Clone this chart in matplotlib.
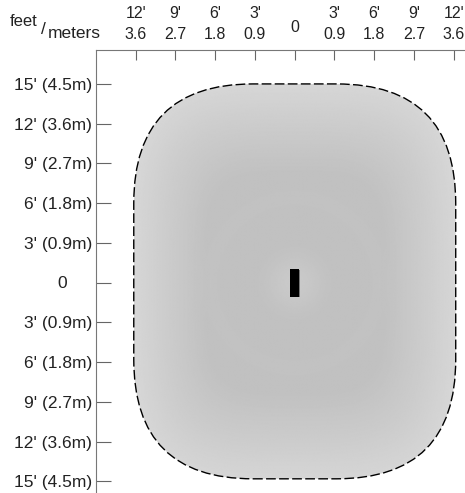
import matplotlib
matplotlib.use("Agg")
import matplotlib.pyplot as plt
import numpy as np
from matplotlib.patches import FancyBboxPatch, Rectangle
from matplotlib.transforms import blended_transform_factory

plt.rcParams['font.family'] = ['Liberation Sans', 'DejaVu Sans']

# DATA (feet, sensor at origin)
x_ticks_ft = [-12, -9, -6, -3, 0, 3, 6, 9, 12]
x_labels_ft = ["12'", "9'", "6'", "3'", "", "3'", "6'", "9'", "12'"]
x_labels_m = ["3.6", "2.7", "1.8", "0.9", "", "0.9", "1.8", "2.7", "3.6"]
y_ticks_ft = [15, 12, 9, 6, 3, 0, -3, -6, -9, -12, -15]
y_labels = ["15' (4.5m)", "12' (3.6m)", "9' (2.7m)", "6' (1.8m)", "3' (0.9m)", "",
            "3' (0.9m)", "6' (1.8m)", "9' (2.7m)", "12' (3.6m)", "15' (4.5m)"]

# coverage zone outline: left, right, bottom, top, corner radius (ft)
coverage_left = -12.15
coverage_right = 12.15
coverage_bottom = -14.8
coverage_top = 15.0
coverage_corner = 9.0

# sensor body (ft)
sensor_width = 0.68
sensor_height = 2.1

W, H = 465, 493
fig = plt.figure(figsize=(W / 100, H / 100), dpi=100)
ax = fig.add_axes([96 / W, 0, (W - 96) / W, (H - 50) / H])
ax.set_xlim(-15, 12.85)
ax.set_ylim(-15.87, 17.56)

box = f"round,pad=0,rounding_size={coverage_corner}"

# coverage shape
shape = FancyBboxPatch((coverage_left, coverage_bottom),
                       coverage_right - coverage_left, coverage_top - coverage_bottom,
                       boxstyle=box, facecolor='none', edgecolor='black', linewidth=1.0,
                       linestyle=(0, (7, 2.4)), zorder=3)
ax.add_patch(shape)

# grey shading inside the zone
gx = np.linspace(coverage_left, coverage_right, 400)
gy = np.linspace(coverage_bottom, coverage_top, 480)
X, Y = np.meshgrid(gx, gy)
r = np.hypot(X, Y)
d = ((np.abs(X) / coverage_right) ** 4 + (np.abs(Y) / coverage_top) ** 4) ** 0.25
radial = np.interp(r, [0, 1.2, 2.6, 5.5, 6.4, 7.4, 20],
                   [0.795, 0.78, 0.758, 0.755, 0.762, 0.755, 0.755])
edge = np.interp(d, [0, 0.55, 0.8, 1.0, 2.0], [0.0, 0.0, 0.045, 0.085, 0.085])
val = np.clip(radial + edge, 0, 1)
img = ax.imshow(val, cmap='gray', vmin=0, vmax=1, origin='lower',
                extent=(coverage_left, coverage_right, coverage_bottom, coverage_top),
                interpolation='bilinear', zorder=1)
clip = FancyBboxPatch((coverage_left, coverage_bottom),
                      coverage_right - coverage_left, coverage_top - coverage_bottom,
                      boxstyle=box, transform=ax.transData, facecolor='none', edgecolor='none')
ax.add_patch(clip)
img.set_clip_path(clip)
ax.set_aspect('auto')

# sensor
ax.add_patch(Rectangle((-sensor_width / 2 + 0.06, -sensor_height / 2 - 0.06), sensor_width, sensor_height,
                       facecolor='#777777', edgecolor='none', zorder=4))
ax.add_patch(Rectangle((-sensor_width / 2, -sensor_height / 2), sensor_width, sensor_height,
                       facecolor='black', edgecolor='none', zorder=5))

# axes styling
for s in ['right', 'bottom']:
    ax.spines[s].set_visible(False)
for s in ['left', 'top']:
    ax.spines[s].set_color('#777777')
    ax.spines[s].set_linewidth(0.8)

ax.xaxis.tick_top()
ax.set_xticks(x_ticks_ft)
ax.set_xticklabels([])
ax.tick_params(axis='x', direction='in', length=7.2, width=0.8, color='#666666')

ax.set_yticks(y_ticks_ft)
ax.set_yticklabels(y_labels, fontsize=12.5, color='#222222')
ax.tick_params(axis='y', direction='in', length=10.8, width=0.8, color='#666666', pad=3)

tr = blended_transform_factory(ax.transData, ax.transAxes)
for xv, f, m in zip(x_ticks_ft, x_labels_ft, x_labels_m):
    ax.text(xv, 1 + 32 / 443, f, transform=tr, ha='center', va='baseline', fontsize=11.5, color='#222222')
    ax.text(xv, 1 + 11 / 443, m, transform=tr, ha='center', va='baseline', fontsize=11.5, color='#222222')
ax.text(0, 1 + 18 / 443, "0", transform=tr, ha='center', va='baseline', fontsize=11.5, color='#222222')

# zero label on the left and the unit caption
fig.text(62 / W, 1 - 283 / H, "0", ha='center', va='center', fontsize=12.5, color='#222222')
fig.text(10 / W, 1 - 26 / H, "feet", ha='left', va='baseline', fontsize=12, color='#222222')
fig.text(41 / W, 1 - 34 / H, "/", ha='left', va='baseline', fontsize=12.5, color='#222222')
fig.text(48 / W, 1 - 38 / H, "meters", ha='left', va='baseline', fontsize=12.5, color='#222222')

fig.savefig("out.png", dpi=100)
